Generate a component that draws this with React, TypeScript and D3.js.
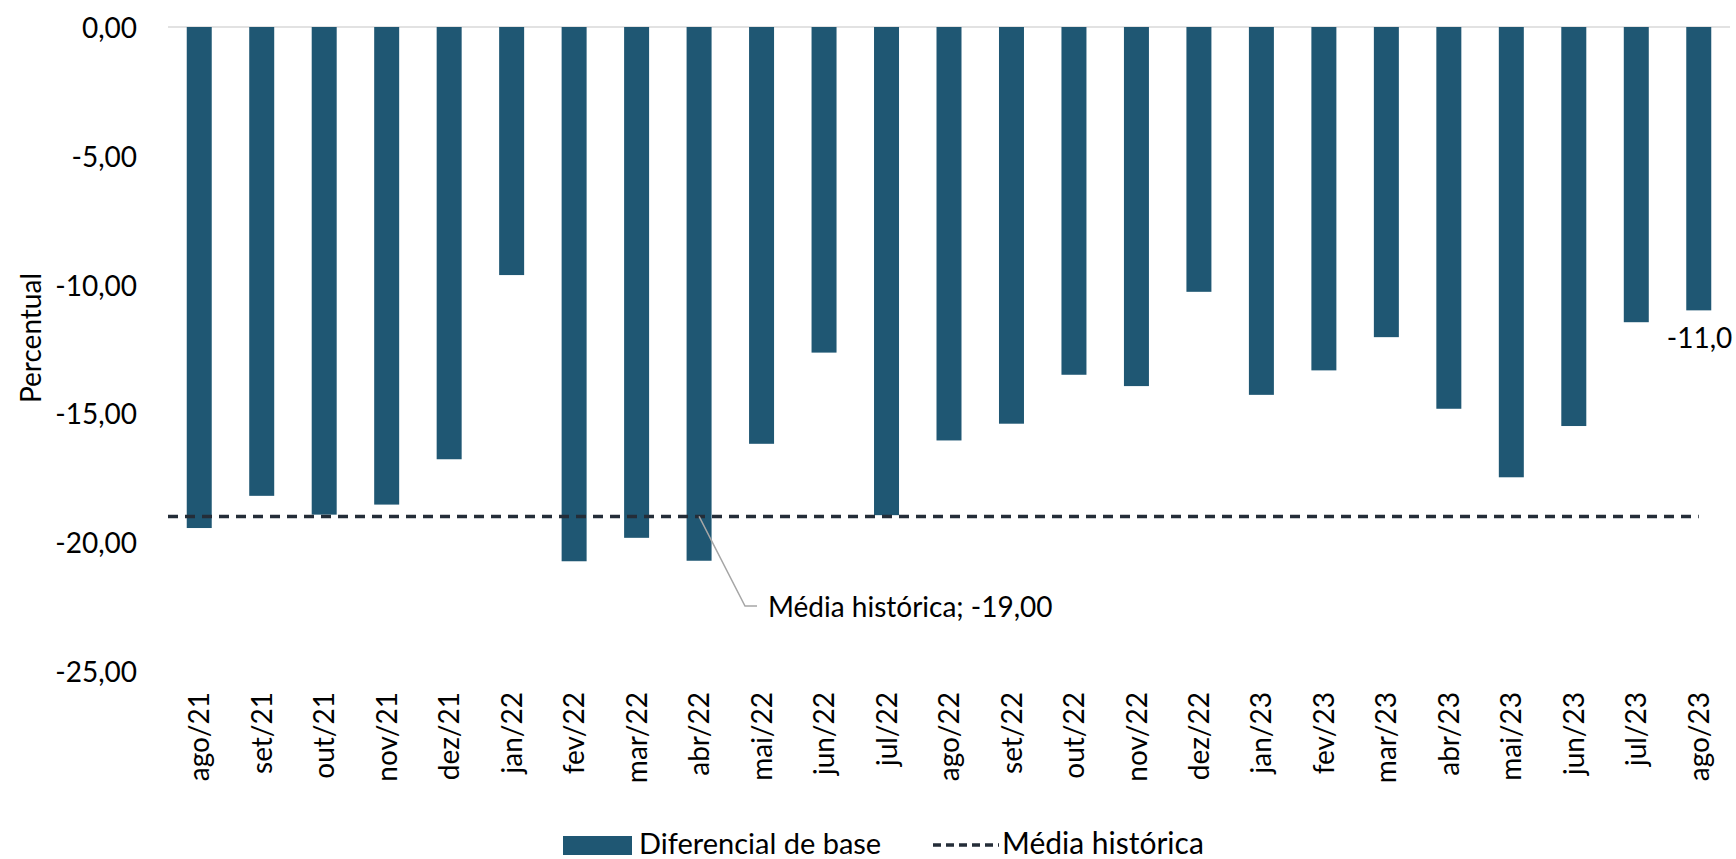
import * as d3 from "d3";

const categories = [
  "ago/21", "set/21", "out/21", "nov/21", "dez/21", "jan/22", "fev/22", "mar/22",
  "abr/22", "mai/22", "jun/22", "jul/22", "ago/22", "set/22", "out/22", "nov/22",
  "dez/22", "jan/23", "fev/23", "mar/23", "abr/23", "mai/23", "jun/23", "jul/23", "ago/23",
];
const diferencial = [
  -19.45, -18.2, -18.93, -18.54, -16.78, -9.63, -20.74, -19.83,
  -20.72, -16.18, -12.64, -18.95, -16.05, -15.4, -13.5, -13.94,
  -10.28, -14.28, -13.33, -12.04, -14.82, -17.48, -15.49, -11.46, -11.0,
];
const mediaHistorica = -19.0;
const yTicks = [0, -5, -10, -15, -20, -25];

const FONT = "Lato, 'Open Sans', sans-serif";
const BAR = "#1F5773";
const DASH = "#242D38";

const width = 1736;
const height = 859;
const MARGIN = { top: 27, right: 6, bottom: 188, left: 168 };

const fmt = (v: number) => v.toFixed(2).replace(".", ",");

const App = () => {
  const x = d3
    .scaleBand()
    .domain(categories)
    .range([MARGIN.left, width - MARGIN.right])
    .paddingInner(0.6)
    .paddingOuter(0.3);
  const y = d3.scaleLinear().domain([-25, 0]).range([height - MARGIN.bottom, MARGIN.top]);

  const bars = diferencial.map((v, i) => (
    <rect
      key={i}
      x={x(categories[i])}
      y={y(0)}
      width={x.bandwidth()}
      height={y(v) - y(0)}
      fill={BAR}
    />
  ));

  const lastIdx = categories.length - 1;
  const lastCx = (x(categories[lastIdx]) as number) + x.bandwidth() / 2;
  const mediaY = y(mediaHistorica);
  // leader from the "abr/22" point down to the label
  const anchorCx = (x("abr/22") as number) + x.bandwidth() / 2;

  return (
    <svg
      width={width}
      height={height}
      style={{ position: "absolute", left: 0, top: 0, background: "#fff" }}
      fontFamily={FONT}
    >
      <line x1={MARGIN.left} x2={width - MARGIN.right} y1={y(0)} y2={y(0)} stroke="#d9d9d9" strokeWidth={1.5} />
      {yTicks.map((t) => (
        <text key={t} x={137} y={y(t)} textAnchor="end" dominantBaseline="central" fontSize={28} fill="#000">
          {fmt(t)}
        </text>
      ))}
      <text
        transform={`translate(30, 338) rotate(-90)`}
        textAnchor="middle"
        dominantBaseline="central"
        fontSize={28}
        fill="#000"
      >
        Percentual
      </text>
      {bars}
      <line
        x1={MARGIN.left}
        x2={lastCx}
        y1={mediaY}
        y2={mediaY}
        stroke={DASH}
        strokeWidth={3.5}
        strokeDasharray="10,7"
      />
      {categories.map((c) => (
        <text
          key={c}
          transform={`translate(${(x(c) as number) + x.bandwidth() / 2}, 692) rotate(-90)`}
          textAnchor="end"
          dy="0.36em"
          fontSize={28}
          fill="#000"
        >
          {c}
        </text>
      ))}
      <text x={lastCx - 32} y={348} fontSize={28} fill="#000">
        {diferencial[lastIdx].toFixed(1).replace(".", ",")}
      </text>
      <polyline
        points={`${anchorCx},${mediaY} 745,606 757,606`}
        fill="none"
        stroke="#a6a6a6"
        strokeWidth={1.5}
      />
      <text x={768} y={617} fontSize={28} fill="#000">
        Média histórica; {fmt(mediaHistorica)}
      </text>
      <rect x={563} y={836} width={69} height={19} fill={BAR} />
      <text x={639} y={854} fontSize={29} fill="#000">
        Diferencial de base
      </text>
      <line x1={933} x2={999} y1={845} y2={845} stroke={DASH} strokeWidth={3.5} strokeDasharray="8,5" />
      <text x={1002} y={854} fontSize={30} fill="#000">
        Média histórica
      </text>
    </svg>
  );
};

export default App;
